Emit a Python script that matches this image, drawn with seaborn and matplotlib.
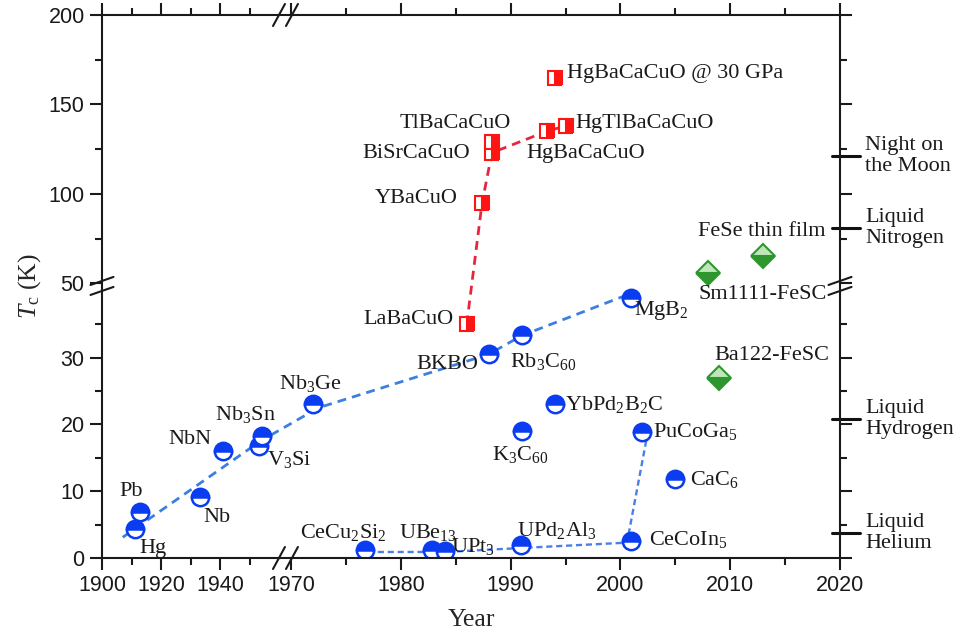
import numpy as np
import matplotlib
matplotlib.use("Agg")
import matplotlib.pyplot as plt
import matplotlib.transforms as mtransforms
import seaborn as sns

# Datos (Tc en K)
blue_names = ['Hg', 'Pb', 'Nb', 'NbN', 'V$_3$Si', 'Nb$_3$Sn', 'Nb$_3$Ge', 'CeCu$_2$Si$_2$',
              'UBe$_{13}$', 'UPt$_3$', 'BKBO', 'Rb$_3$C$_{60}$', 'K$_3$C$_{60}$', 'UPd$_2$Al$_3$',
              'YbPd$_2$B$_2$C', 'MgB$_2$', 'CeCoIn$_5$', 'PuCoGa$_5$', 'CaC$_6$']
blue_years = [1911, 1913, 1933, 1941, 1953, 1954, 1972, 1976.7,
              1982.8, 1984, 1988, 1991, 1991, 1990.9,
              1994, 2001, 2001, 2002, 2005]
blue_tc = [4.4, 6.9, 9.1, 16.0, 16.7, 18.3, 23.1, 1.2,
           1.2, 1.1, 30.6, 33.4, 19.0, 1.9,
           23.1, 39.0, 2.5, 18.9, 11.8]

red_names = ['LaBaCuO', 'YBaCuO', 'BiSrCaCuO', 'TlBaCaCuO', 'HgBaCaCuO',
             'HgTlBaCaCuO', 'HgBaCaCuO @ 30 GPa']
red_years = [1986, 1987.4, 1988.3, 1988.3, 1993.3, 1995, 1994]
red_tc = [35, 95, 123, 129, 135, 138, 165]

green_names = ['Sm1111-FeSC', 'FeSe thin film', 'Ba122-FeSC']
green_years = [2008, 2013, 2009]
green_tc = [56, 65, 27]

# lineas de tendencia (discontinuas)
conv_line_years = [1907, 1953.5, 1972.5, 1988, 1991, 2000.6]
conv_line_tc = [3.1, 17.5, 22.5, 30.5, 33.3, 39.4]
hf_line_years = [1977, 1984, 1991, 2000.6, 2002.4]
hf_line_tc = [0.9, 0.9, 1.5, 2.3, 18.0]
cup_line_years = [1986, 1987.4, 1988.3, 1993.3, 1995]
cup_line_tc = [35, 95, 123, 135, 138]

# temperaturas de referencia (eje derecho)
ref_names = ['Night on\nthe Moon', 'Liquid\nNitrogen', 'Liquid\nHydrogen', 'Liquid\nHelium']
ref_tc = [121, 81, 20.8, 3.8]

# posicion de las etiquetas (dx, dy en pixeles, alineacion)
label_pos = {
    'Hg': (18, -20, 'center'), 'Pb': (-9, 20, 'center'), 'Nb': (17, -20, 'center'),
    'NbN': (-33, 12, 'center'), 'V$_3$Si': (30, -13, 'center'),
    'Nb$_3$Sn': (-16, 21, 'center'), 'Nb$_3$Ge': (-3, 20, 'center'),
    'CeCu$_2$Si$_2$': (-21, 17, 'center'), 'UBe$_{13}$': (-4, 17, 'center'),
    'UPt$_3$': (6, 4, 'left'), 'BKBO': (-41, -11, 'center'),
    'Rb$_3$C$_{60}$': (22, -27, 'center'), 'K$_3$C$_{60}$': (-1, -23, 'center'),
    'UPd$_2$Al$_3$': (36, 15, 'center'), 'YbPd$_2$B$_2$C': (10, -1, 'left'),
    'MgB$_2$': (30, -13, 'center'), 'CeCoIn$_5$': (18, 2, 'left'),
    'PuCoGa$_5$': (11, 0, 'left'), 'CaC$_6$': (15, 0, 'left'),
    'LaBaCuO': (-13, 5, 'right'), 'YBaCuO': (-24, 4, 'right'),
    'BiSrCaCuO': (-22, -1, 'right'), 'TlBaCaCuO': (-37, 19, 'center'),
    'HgBaCaCuO': (39, -22, 'center'), 'HgTlBaCaCuO': (10, 2, 'left'),
    'HgBaCaCuO @ 30 GPa': (12, 4, 'left'),
    'Sm1111-FeSC': (54, -22, 'center'), 'FeSe thin film': (-1, 25, 'center'),
    'Ba122-FeSC': (53, 22, 'center'),
}


# escalas con corte (eje x: 1960-1969, eje y: 41-50 K)
def fwd_x(x):
    x = np.asarray(x, dtype=float)
    return np.where(x <= 1960, (x - 1900) * 2.96,
                    np.where(x < 1969, 177.6 + (x - 1960) * 0.05,
                             178.05 + (x - 1969) * 10.98))


def inv_x(u):
    u = np.asarray(u, dtype=float)
    return np.where(u <= 177.6, 1900 + u / 2.96,
                    np.where(u < 178.05, 1960 + (u - 177.6) / 0.05,
                             1969 + (u - 178.05) / 10.98))


def fwd_y(y):
    y = np.asarray(y, dtype=float)
    return np.where(y <= 41, y * 6.67,
                    np.where(y < 50, 273.47 + (y - 41) * 0.1,
                             274.37 + (y - 50) * 1.787))


def inv_y(u):
    u = np.asarray(u, dtype=float)
    return np.where(u <= 273.47, u / 6.67,
                    np.where(u < 274.37, 41 + (u - 273.47) / 0.1,
                             50 + (u - 274.37) / 1.787))


sns.set_style('ticks')
plt.rcParams['font.family'] = ['Liberation Sans', 'DejaVu Sans']
plt.rcParams['mathtext.fontset'] = 'custom'
plt.rcParams['mathtext.rm'] = 'Liberation Serif'
plt.rcParams['mathtext.it'] = 'Liberation Serif:italic'
plt.rcParams['axes.linewidth'] = 1.5

fig = plt.figure(figsize=(9.55, 6.3), dpi=100)
ax = fig.add_axes([0.1068, 0.1143, 0.7728, 0.8619])
ax.set_xscale('function', functions=(fwd_x, inv_x))
ax.set_yscale('function', functions=(fwd_y, inv_y))

# lineas de tendencia
sns.lineplot(x=conv_line_years, y=conv_line_tc, sort=False, estimator=None, ax=ax,
             color='#3d7fe0', lw=2.0, linestyle=(0, (3.2, 2.2)))
sns.lineplot(x=hf_line_years, y=hf_line_tc, sort=False, estimator=None, ax=ax,
             color='#4a7fe8', lw=1.7, linestyle=(0, (2.6, 1.6)))
sns.lineplot(x=cup_line_years, y=cup_line_tc, sort=False, estimator=None, ax=ax,
             color='#e8253f', lw=2.0, linestyle=(0, (3.2, 2.2)))

# puntos
sns.lineplot(x=blue_years, y=blue_tc, sort=False, estimator=None, ax=ax,
             linestyle='', marker='o', markersize=12.5, fillstyle='top',
             color='#0a3cf0', markerfacecoloralt='white',
             markeredgecolor='#0a3cf0', markeredgewidth=1.8)
sns.lineplot(x=red_years, y=red_tc, sort=False, estimator=None, ax=ax,
             linestyle='', marker='s', markersize=10, fillstyle='right',
             color='#ff1414', markerfacecoloralt='white',
             markeredgecolor='#ff1414', markeredgewidth=1.5)
sns.lineplot(x=green_years, y=green_tc, sort=False, estimator=None, ax=ax,
             linestyle='', marker='D', markersize=12, fillstyle='bottom',
             color='#2e962e', markerfacecoloralt='#bfe6b8',
             markeredgecolor='#2e962e', markeredgewidth=1.5)

# etiquetas
for names, xs, ys in [(blue_names, blue_years, blue_tc),
                      (red_names, red_years, red_tc),
                      (green_names, green_years, green_tc)]:
    for name, xv, yv in zip(names, xs, ys):
        dx, dy, ha = label_pos[name]
        ax.annotate(name, xy=(xv, yv), xytext=(dx, dy), textcoords='offset pixels',
                    ha=ha, va='center', fontsize=16, family='Liberation Serif',
                    color='#1a1a1a')

ax.set_xlim(1900, 2020)
ax.set_ylim(0, 200)
ax.set_xticks([1900, 1920, 1940, 1970, 1980, 1990, 2000, 2010, 2020],
              ['1900', '1920', '1940', '1970', '1980', '1990', '2000', '2010', '2020'])
ax.set_xticks([1910, 1930, 1950, 1975, 1985, 1995, 2005, 2015], minor=True)
ax.set_yticks([0, 10, 20, 30, 50, 100, 150, 200],
              ['0', '10', '20', '30', '50', '100', '150', '200'])
ax.set_yticks([5, 15, 25, 35, 75, 125, 175], minor=True)
ax.tick_params(which='both', direction='out', top=True, right=True, width=1.5,
               color='#1a1a1a', labelsize=15.5, labelcolor='#1a1a1a')
ax.tick_params(which='major', length=8.5, pad=4)
ax.tick_params(which='minor', length=5)
for s in ax.spines.values():
    s.set_color('#1a1a1a')

ax.set_xlabel('Year', fontsize=18.5, family='Liberation Serif', labelpad=9)
ax.set_ylabel(r'$T_{\mathrm{c}}$ (K)', fontsize=18.5, family='Liberation Serif', labelpad=4)

# marcas de corte
kw = dict(transform=ax.transAxes, clip_on=False, color='#1a1a1a', lw=1.5)
for off in (-0.0088, 0.0088):
    xb = 0.2486 + off
    for yb in (0.0, 1.0):
        ax.plot([xb - 0.0081, xb + 0.0081], [yb - 0.0203, yb + 0.0203], **kw)
yb0 = 0.501
for off in (-0.0092, 0.0092):
    for xb in (0.0, 1.0):
        ax.plot([xb - 0.0156, xb + 0.0156], [yb0 + off - 0.0074, yb0 + off + 0.0074], **kw)

# temperaturas de referencia a la derecha
trans = mtransforms.blended_transform_factory(ax.transAxes, ax.transData)
for name, tc in zip(ref_names, ref_tc):
    ax.plot([0.989, 1.027], [tc, tc], transform=trans, clip_on=False,
            color='#111111', lw=2.2)
    ax.text(1.034, tc, name, transform=trans, ha='left', va='center', fontsize=16,
            family='Liberation Serif', color='#1a1a1a', linespacing=1.15)

fig.savefig('out.png', dpi=100)
